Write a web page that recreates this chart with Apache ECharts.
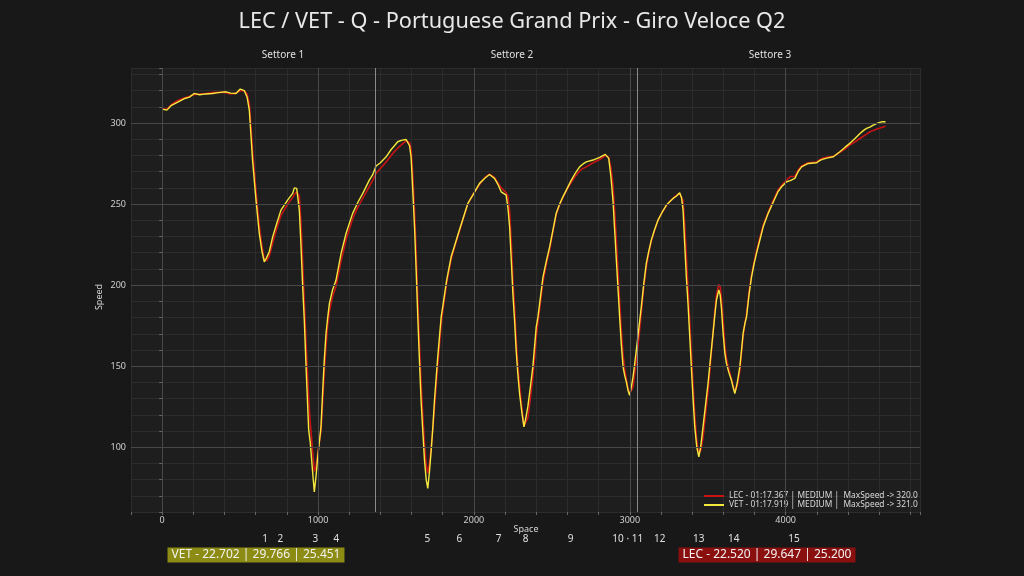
<!DOCTYPE html>
<html><head><meta charset="utf-8">
<script src="https://cdn.jsdelivr.net/npm/echarts/dist/echarts.min.js"></script>
<style>html,body{margin:0;padding:0;background:#181818;}#c{width:1024px;height:576px;}</style>
</head><body><div id="c"></div>
<script>
const dist = [0,30,60,100,140,175,205,240,280,323,360,409,440,473,501,527,545,559,570,580,602,623,640,655,670,687,709,735,762,805,837,848,863,880,891,901,912,923,940,950,965,976,987,998,1019,1030,1040,1051,1062,1073,1093,1115,1148,1180,1222,1255,1287,1329,1350,1372,1400,1437,1469,1490,1511,1540,1565,1576,1587,1597,1608,1619,1630,1640,1650,1661,1672,1683,1694,1704,1715,1726,1737,1747,1758,1768,1779,1790,1800,1825,1854,1875,1897,1930,1961,1993,2036,2070,2100,2132,2155,2175,2207,2218,2229,2240,2250,2261,2271,2282,2293,2307,2321,2333,2346,2362,2378,2390,2400,2411,2443,2465,2486,2507,2528,2550,2571,2600,2625,2650,2678,2700,2721,2764,2807,2843,2865,2880,2892,2903,2914,2925,2935,2946,2957,2968,2978,2989,2999,3010,3021,3031,3042,3053,3064,3074,3090,3106,3122,3138,3160,3181,3208,3235,3256,3278,3300,3320,3332,3342,3352,3363,3374,3385,3395,3406,3417,3430,3443,3456,3470,3486,3502,3518,3534,3545,3556,3571,3580,3588,3599,3610,3620,3636,3652,3663,3674,3690,3706,3717,3727,3738,3749,3765,3781,3797,3813,3835,3856,3888,3910,3931,3950,3974,4006,4030,4059,4080,4102,4145,4199,4220,4241,4270,4306,4348,4380,4412,4445,4477,4500,4519,4540,4562,4590,4616,4641];
const vetSpeed = [308.6,308.0,311.0,313.0,315.0,316.0,318.3,317.5,318.0,318.3,318.8,319.3,318.5,318.3,321.0,320.0,316.0,308.0,292.0,277.0,252.5,232.0,221.0,214.4,217.0,220.6,229.8,238.0,246.3,252.5,256.6,260.0,259.7,246.3,223.6,200.0,178.0,150.0,110.5,103.0,85.0,72.4,82.0,94.0,112.5,135.0,153.7,170.0,180.0,188.7,197.0,203.0,219.6,232.0,244.3,251.0,256.6,264.8,268.0,273.5,275.5,279.2,283.7,286.0,288.5,289.5,289.9,289.5,286.0,279.2,258.0,236.0,208.0,180.4,155.0,129.0,110.0,92.0,80.0,74.5,85.0,98.0,113.0,129.0,143.0,155.7,168.0,180.4,186.6,203.0,217.5,224.0,230.9,241.0,250.4,255.6,262.8,266.0,268.3,265.9,262.0,257.6,255.6,248.0,236.0,215.0,194.8,178.0,159.9,145.0,133.1,122.0,112.5,118.0,125.0,137.0,149.6,163.0,174.3,180.4,205.0,215.0,223.6,234.0,244.3,250.0,254.5,260.0,264.8,269.0,273.0,274.8,276.1,277.2,278.8,280.7,278.2,266.0,252.5,234.0,215.4,197.0,180.4,163.0,149.6,144.0,140.3,135.0,132.0,137.0,143.4,151.0,159.9,169.0,178.4,186.6,201.0,213.4,221.0,227.8,234.5,240.1,245.0,249.4,251.5,253.5,255.0,257.0,254.0,246.3,226.0,205.0,188.0,168.0,149.6,130.0,112.5,100.0,94.0,101.0,112.5,126.0,139.3,155.0,170.2,181.0,190.7,197.0,194.0,186.0,170.2,158.0,151.7,146.0,141.4,137.0,133.1,140.0,149.6,160.0,170.2,176.0,180.4,194.0,205.0,213.0,219.6,228.0,236.0,244.3,249.0,253.5,257.5,260.7,263.8,264.5,265.9,270.0,273.0,275.1,275.5,277.0,277.8,278.5,279.2,282.3,285.0,287.5,290.5,293.6,295.5,296.7,297.5,298.8,300.0,300.8,300.8];
const lecSpeed = [308.8,308.5,311.5,314.0,315.5,316.5,317.5,318.0,318.3,318.8,319.0,318.8,318.0,318.5,320.0,320.0,318.0,312.0,298.0,283.0,258.0,237.0,224.0,216.0,215.0,218.0,226.0,235.0,243.0,250.0,254.0,256.0,257.5,255.0,238.0,215.0,190.0,165.0,130.0,115.0,98.0,85.0,88.0,96.0,110.0,128.0,146.0,162.0,175.0,184.0,193.0,199.0,215.0,228.0,241.0,248.0,253.5,261.0,264.5,269.0,272.0,276.0,280.0,282.5,284.5,287.0,289.0,289.5,288.0,284.0,268.0,246.0,220.0,192.0,165.0,140.0,120.0,102.0,89.0,84.0,90.0,100.0,112.0,124.0,138.0,150.0,163.0,176.0,184.0,201.0,216.0,223.0,230.0,240.5,250.0,255.8,262.0,266.5,268.5,266.5,263.0,260.0,257.0,255.0,246.0,226.0,204.0,186.0,167.0,150.0,138.0,125.0,113.0,114.0,118.0,130.0,143.0,156.0,168.0,177.0,202.0,213.0,222.0,233.0,243.5,249.5,254.0,259.5,263.5,267.0,270.5,272.0,273.0,275.5,277.5,280.0,279.0,272.0,262.0,246.0,228.0,208.0,190.0,172.0,157.0,148.0,142.0,136.0,133.0,134.0,137.0,145.0,153.0,163.0,173.0,183.0,199.0,211.0,220.0,227.0,234.0,240.0,245.0,249.0,251.5,253.5,255.5,256.5,256.0,252.0,238.0,218.0,198.0,177.0,158.0,138.0,120.0,104.0,96.0,98.0,106.0,120.0,134.0,152.0,170.0,183.0,194.0,200.5,199.0,192.0,178.0,163.0,155.0,148.0,142.0,138.0,134.0,138.0,147.0,158.0,168.0,176.0,182.0,196.0,206.0,214.0,221.0,229.5,237.0,245.0,250.0,254.5,258.5,261.5,265.0,267.0,267.0,271.0,273.5,275.5,276.0,277.5,278.5,279.0,279.5,282.0,284.0,286.5,288.5,290.5,292.0,293.2,294.5,295.5,296.5,297.3,298.0];

const drivers = ['LEC', 'VET'];
const lapTimes = ['01:17.367', '01:17.919'];
const compounds = ['MEDIUM', 'MEDIUM'];
const maxSpeeds = [320.0, 321.0];
const lecSectors = ['22.520', '29.647', '25.200'];
const vetSectors = ['22.702', '29.766', '25.451'];
const sectorNames = ['Settore 1', 'Settore 2', 'Settore 3'];
const sectorBounds = [1368, 3051];
const cornerLabels = ['1','2','3','4','5','6','7','8','9','10 · 11','12','13','14','15'];
const cornerDist = [661, 758, 983, 1118, 1702, 1907, 2158, 2331, 2620, 2987, 3192, 3442, 3667, 4053];
const xMajorTicks = [0, 1000, 2000, 3000, 4000];
const yMajorTicks = [100, 150, 200, 250, 300];
const xName = 'Space';
const yName = 'Speed';

const FONT = 'Noto Sans';
const chart = echarts.init(document.getElementById('c'));
const pairs = s => dist.map((d, i) => [d, s[i]]);

const option = {
  backgroundColor: '#181818',
  animation: false,
  textStyle: { fontFamily: FONT },
  title: {
    text: 'LEC / VET - Q - Portuguese Grand Prix - Giro Veloce Q2',
    left: 'center', top: 6,
    textStyle: { color: '#e8e8e8', fontSize: 21.7, fontWeight: 'normal', fontFamily: FONT }
  },
  grid: { left: 131, right: 104, top: 68, bottom: 64, show: true, backgroundColor: '#1e1e1e', borderWidth: 0 },
  legend: {
    data: drivers,
    orient: 'vertical',
    left: 699, top: 487,
    itemWidth: 20, itemHeight: 2, itemGap: 1,
    icon: 'rect',
    textStyle: { color: '#d8d8d8', fontSize: 8.4, fontFamily: FONT },
    formatter: name => {
      const i = drivers.indexOf(name);
      return name + ' - ' + lapTimes[i] + ' | ' + compounds[i] + ' |  MaxSpeed -> ' + maxSpeeds[i].toFixed(1);
    }
  },
  xAxis: {
    type: 'value', min: -200, max: 4862, interval: 200,
    axisLine: { show: false },
    axisTick: { show: true, length: 3, lineStyle: { color: '#666' } },
    axisLabel: { color: '#d0d0d0', fontSize: 9, margin: 4,
      formatter: v => (v % 1000 === 0 ? String(v) : '') },
    splitLine: { show: true, lineStyle: { color: '#2c2c2c', width: 1 } }
  },
  yAxis: {
    type: 'value', min: 60, max: 334, interval: 10,
    axisLine: { show: false },
    axisTick: { show: true, length: 3, lineStyle: { color: '#666' } },
    axisLabel: { color: '#d0d0d0', fontSize: 9, margin: 5,
      formatter: v => (v % 50 === 0 ? String(v) : '') },
    splitLine: { show: true, lineStyle: { color: '#2c2c2c', width: 1 } }
  },
  series: [
    {
      name: 'grid', type: 'line', data: [], z: 1, silent: true,
      markLine: {
        silent: true, symbol: 'none', animation: false, label: { show: false },
        data: [
          ...xMajorTicks.map(v => ({ xAxis: v, lineStyle: { color: '#484848', width: 1, type: 'solid' } })),
          ...yMajorTicks.map(v => ({ yAxis: v, lineStyle: { color: '#484848', width: 1, type: 'solid' } })),
          ...sectorBounds.map(v => ({ xAxis: v, lineStyle: { color: '#8a8a8a', width: 1, type: 'solid' } }))
        ]
      }
    },
    {
      name: 'LEC', type: 'line', data: pairs(lecSpeed), showSymbol: false, symbol: 'none', z: 3,
      lineStyle: { color: '#c81414', width: 1.6 }, itemStyle: { color: '#c81414' }
    },
    {
      name: 'VET', type: 'line', data: pairs(vetSpeed), showSymbol: false, symbol: 'none', z: 4,
      lineStyle: { color: '#f5e83c', width: 1.4 }, itemStyle: { color: '#f5e83c' }
    }
  ]
};
chart.setOption(option);

const g = [];
const sectorPx = [283, 512, 770];
sectorNames.forEach((s, i) => g.push({
  type: 'text', x: sectorPx[i], y: 55,
  style: { text: s, fill: '#e0e0e0', font: '10px "' + FONT + '"', textAlign: 'center', textVerticalAlign: 'middle' }
}));
cornerLabels.forEach((c, i) => {
  const px = chart.convertToPixel({ xAxisIndex: 0 }, cornerDist[i]);
  g.push({ type: 'text', x: px, y: 539,
    style: { text: c, fill: '#e0e0e0', font: '10px "' + FONT + '"', textAlign: 'center', textVerticalAlign: 'middle' } });
});
g.push({ type: 'text', x: 526, y: 529,
  style: { text: xName, fill: '#d8d8d8', font: '9px "' + FONT + '"', textAlign: 'center', textVerticalAlign: 'middle' } });
g.push({ type: 'text', x: 99, y: 297, rotation: Math.PI / 2,
  style: { text: yName, fill: '#d8d8d8', font: '9px "' + FONT + '"', textAlign: 'center', textVerticalAlign: 'middle' } });
g.push({ type: 'text', x: 256, y: 555,
  style: { text: 'VET - ' + vetSectors.join(' | '), fill: '#f2f2f2', font: '12px "' + FONT + '"',
    textAlign: 'center', textVerticalAlign: 'middle', backgroundColor: '#8c8c14', padding: [2, 4, 1, 4] } });
g.push({ type: 'text', x: 767, y: 555,
  style: { text: 'LEC - ' + lecSectors.join(' | '), fill: '#f2f2f2', font: '12px "' + FONT + '"',
    textAlign: 'center', textVerticalAlign: 'middle', backgroundColor: '#8a1010', padding: [2, 4, 1, 4] } });
chart.setOption({ graphic: g });
</script></body></html>
